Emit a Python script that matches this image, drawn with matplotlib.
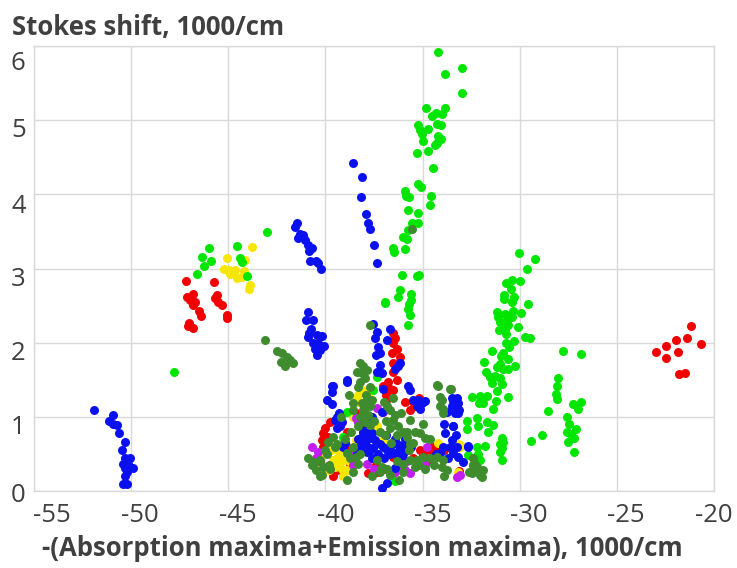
import matplotlib
matplotlib.use("Agg")
import matplotlib.pyplot as plt
import matplotlib.transforms as mtrans

# ---------------------------------------------------------------
# data (x = -(abs max + em max), y = Stokes shift)
# ---------------------------------------------------------------
red_x = [-47.18, -45.74, -46.8, -47.14, -46.97, -46.71, -46.8, -46.49, -46.42, -47.0, -47.06, -46.83,
         -45.6, -45.68, -45.51, -45.34, -45.05, -45.08,
         -21.19, -21.38, -21.94, -20.69, -22.46, -22.99, -21.84, -22.46, -21.82, -21.5,
         -36.51, -36.42, -36.51, -36.33, -36.59, -36.16, -36.51, -36.54, -36.33, -36.76, -37.02, -36.68,
         -36.88, -36.76, -35.48, -35.39, -35.65, -40.02, -40.11, -40.19, -40.14, -39.86, -38.91, -38.82,
         -38.74, -37.8, -36.51, -35.13, -34.45, -34.19, -39.42, -38.45, -34.71, -37.36, -36.16, -39.76,
         -36.51, -34.28, -33.1,
         -40.3, -39.9, -38.5, -37.9, -36.9, -35.5, -35.0, -34.6, -33.9, -35.9, -35.2, -39.6, -37.4]
red_y = [2.83, 2.82, 2.66, 2.61, 2.57, 2.55, 2.51, 2.43, 2.36, 2.26, 2.22, 2.20,
         2.64, 2.60, 2.55, 2.51, 2.37, 2.33,
         2.23, 2.06, 2.04, 1.98, 1.95, 1.87, 1.87, 1.80, 1.58, 1.59,
         2.13, 2.06, 1.99, 1.92, 1.86, 1.81, 1.72, 1.61, 1.50, 1.47, 1.41, 1.38,
         1.30, 1.25, 1.20, 1.14, 1.09, 0.85, 0.78, 0.69, 0.60, 0.73, 0.80, 0.58,
         0.37, 0.24, 0.46, 0.55, 0.60, 0.55, 0.28, 1.05, 0.42, 0.26, 0.33, 0.93,
         1.36, 0.55, 0.27,
         0.40, 0.30, 0.45, 0.60, 0.30, 0.45, 0.50, 0.55, 0.55, 1.20, 1.25, 0.20, 0.35]

yellow_x = [-43.78, -45.07, -44.16, -45.22, -44.95, -44.64, -44.91, -44.19, -44.54, -44.31, -43.88, -43.92,
            -38.31, -38.39, -37.97, -38.45, -38.45, -39.25, -39.34, -39.17, -39.08, -40.28, -39.6, -37.02,
            -33.16, -33.08, -37.36, -37.54, -38.05, -33.08, -33.2, -39.5, -39.3, -38.9,
            -39.8, -39.7, -39.4, -39.1, -38.8, -38.3, -37.8, -38.6, -36.8, -34.2]
yellow_y = [3.29, 3.14, 3.11, 3.0, 2.98, 2.98, 2.92, 2.96, 2.87, 2.88, 2.78, 2.73,
            1.29, 1.25, 1.32, 0.69, 0.60, 0.46, 0.37, 0.30, 0.42, 0.46, 0.42, 0.69,
            0.64, 0.60, 0.87, 0.89, 1.36, 0.62, 0.25, 0.33, 0.52, 0.28,
            0.28, 0.55, 0.45, 0.20, 0.40, 1.20, 1.30, 1.00, 0.60, 0.65]

magenta_x = [-40.37, -38.45, -38.31, -37.36, -38.57, -37.88, -36.16, -35.91, -34.79, -33.08, -33.25,
             -37.19, -35.65, -37.02, -36.08, -40.5,
             -40.7, -38.7, -37.5, -36.4, -35.8, -34.9, -38.0]
magenta_y = [0.53, 0.98, 0.93, 1.12, 0.35, 0.37, 0.35, 0.28, 0.60, 0.22, 0.19,
             0.46, 0.24, 1.07, 0.31, 0.45,
             0.60, 0.50, 0.30, 0.25, 0.40, 0.35, 0.85]

lime_x = [-46.0, -46.35, -45.91, -46.23, -46.6, -44.54, -43.0, -44.4, -44.31, -44.02, -47.8,
          # upper branch
          -34.19, -32.99, -33.83, -32.96, -34.84, -33.83, -34.31, -34.5, -34.0, -35.24, -34.27, -34.05,
          -34.74, -35.13, -35.05, -34.19, -34.07, -34.96, -34.27, -34.34, -34.71, -35.29, -34.48, -35.25,
          -35.1, -35.89, -35.85, -35.69, -34.57, -34.62, -35.75, -35.24, -35.56, -35.22, -35.74, -35.99,
          -35.82, -36.51, -36.47, -35.89, -36.08, -35.19, -35.27, -36.16, -36.25, -35.61, -35.6, -36.94,
          -35.68, -35.74,
          # right branch
          -30.02, -29.23, -29.64, -30.38, -30.71, -29.97, -30.47, -30.81, -30.28, -30.81, -30.41, -29.59,
          -31.19, -30.76, -30.36, -29.92, -31.1, -30.64, -30.41, -31.0, -30.59, -30.11, -30.76, -31.05,
          -30.71, -29.73, -29.47, -30.71, -30.3, -30.54, -31.41, -30.88, -30.96, -30.59, -31.82, -30.26,
          -31.0, -31.19, -31.74, -30.85, -30.62, -31.27, -31.0, -31.53, -31.44, -30.93, -31.16, -32.46,
          -32.05, -31.7, -32.08, -31.87, -31.24, -30.62, -31.36,
          -27.79, -26.86, -28.02, -28.1, -28.15, -28.07, -28.56, -27.28, -26.82, -27.02, -27.55, -27.44,
          -27.1, -27.58, -27.37, -27.21, -27.5, -27.19, -29.42, -28.85,
          -32.73, -32.21, -32.13, -31.7, -31.39, -32.73, -31.64, -30.93, -30.85, -31.0, -30.93, -31.0,
          -30.93, -32.21, -31.79, -32.13, -32.05, -32.65,
          # main cluster
          -38.91, -39.08, -36.42, -37.36, -35.74, -35.65, -36.94, -37.54]
lime_y = [3.27, 3.16, 3.10, 3.03, 2.92, 3.31, 3.49, 3.14, 3.09, 2.90, 1.60,
          5.92, 5.70, 5.62, 5.36, 5.17, 5.17, 5.10, 5.05, 5.08, 4.93, 4.95, 4.94,
          4.88, 4.87, 4.82, 4.78, 4.75, 4.72, 4.69, 4.66, 4.59, 4.56, 4.36, 4.14,
          4.10, 4.04, 3.98, 3.97, 3.98, 3.85, 3.79, 3.75, 3.61, 3.62, 3.52, 3.43,
          3.40, 3.27, 3.22, 3.26, 2.91, 2.91, 2.90, 2.71, 2.62, 2.65, 2.58, 2.55,
          2.52, 2.46,
          3.21, 3.13, 3.0, 2.84, 2.81, 2.83, 2.73, 2.64, 2.62, 2.59, 2.55, 2.52,
          2.42, 2.39, 2.43, 2.40, 2.35, 2.31, 2.34, 2.28, 2.24, 2.21, 2.19, 2.17,
          2.12, 2.07, 2.06, 1.99, 2.02, 1.94, 1.89, 1.86, 1.82, 1.78, 1.74, 1.69,
          1.71, 1.67, 1.61, 1.65, 1.64, 1.55, 1.52, 1.54, 1.46, 1.44, 1.35, 1.27,
          1.28, 1.28, 1.19, 1.18, 1.22, 1.27, 1.10,
          1.89, 1.85, 1.53, 1.42, 1.31, 1.24, 1.08, 1.17, 1.20, 1.11, 1.0, 0.91,
          0.84, 0.80, 0.77, 0.72, 0.66, 0.52, 0.67, 0.75,
          0.94, 0.98, 0.87, 0.93, 0.89, 0.83, 0.79, 0.71, 0.66, 0.64, 0.58, 0.52,
          0.42, 0.60, 0.61, 0.50, 0.42, 0.49,
          1.07, 0.73, 0.13, 1.54, 2.24, 2.37, 2.54, 1.36]

dkgreen_x = [-43.11, -42.48, -42.25, -42.3, -42.08, -41.82, -41.69, -41.99, -35.56,
             -37.71, -38.22, -38.05, -37.88, -38.14, -37.97, -38.22, -37.88, -38.14, -37.71, -38.05, -37.8,
             -38.22, -37.97, -37.71, -38.57, -38.31, -38.57, -36.85, -36.68, -36.42, -36.51, -36.25, -35.99,
             -35.82, -35.65, -35.39, -35.13, -34.88, -36.68, -36.94, -36.33, -39.6, -39.86, -39.42, -38.91,
             -38.74, -38.45, -38.31, -40.28, -40.54, -40.11, -40.19, -39.76, -37.36, -37.1, -36.85, -37.19,
             -36.68, -35.99, -35.65, -35.31, -35.39, -34.97, -34.28, -33.93, -34.02, -33.76, -34.28, -33.59,
             -34.02, -34.1, -33.93, -32.39, -32.21, -32.05, -32.48, -38.39, -37.62, -35.65, -34.1, -34.19,
             -33.93, -32.3, -32.21, -31.87, -31.95, -32.39, -33.55,
             -40.9, -40.7, -40.5, -40.3, -39.9, -39.5, -39.0, -38.7, -38.6, -38.2, -37.9, -37.7, -38.0,
             -37.5, -37.2, -36.9, -36.6, -36.3, -36.0, -35.7, -35.5, -35.2, -34.9, -34.6, -34.4, -33.9,
             -38.6, -38.9, -37.6, -36.2, -35.8, -37.0, -38.3, -38.8, -39.2, -39.8, -40.0, -35.0, -34.6,
             -36.5, -36.1, -32.6, -32.4]
dkgreen_y = [2.04, 1.89, 1.86, 1.74, 1.68, 1.77, 1.73, 1.81, 3.53,
             2.24, 1.72, 1.68, 1.63, 1.59, 1.52, 1.47, 1.23, 1.18, 1.14, 1.09, 1.02,
             1.0, 0.93, 0.89, 1.09, 0.87, 1.18, 1.14, 1.09, 1.02, 0.96, 0.87, 0.80,
             0.73, 0.96, 0.80, 0.78, 0.71, 0.85, 0.75, 0.75, 0.73, 0.66, 0.64, 0.51,
             0.44, 0.46, 0.37, 0.42, 0.39, 0.33, 0.22, 0.30, 0.42, 0.33, 0.30, 0.26,
             0.22, 0.37, 0.42, 0.42, 0.33, 0.46, 0.46, 0.42, 0.33, 0.28, 1.43, 1.38,
             1.23, 1.14, 1.05, 0.35, 0.28, 0.22, 0.24, 1.61, 1.23, 0.64, 1.27, 1.41,
             1.11, 0.37, 0.32, 0.28, 0.19, 0.35, 1.38,
             0.45, 0.35, 0.28, 0.20, 0.50, 0.60, 0.70, 0.80, 0.60, 0.50, 1.30, 1.40, 1.10,
             0.95, 0.80, 0.95, 0.65, 0.40, 0.25, 0.55, 0.65, 0.35, 0.30, 0.45, 0.35, 0.20,
             0.25, 0.15, 0.20, 0.15, 0.80, 1.20, 1.40, 1.30, 1.00, 0.35, 0.55, 0.90, 0.70,
             1.25, 1.05, 0.25, 0.45]

blue_x = [-51.91, -50.95, -51.12, -50.92, -50.74, -50.6, -50.32, -50.46, -50.32, -50.06, -50.4, -50.15,
          -49.92, -50.32, -50.23, -50.32, -50.4, -50.23,
          -41.48, -41.57, -41.31, -41.14, -41.4, -41.05, -40.88, -40.71, -40.83, -40.8, -40.49, -40.37, -40.23,
          -40.88, -41.0, -40.62, -40.76, -40.83, -40.88, -40.45, -40.19, -40.62, -40.37, -40.07, -40.54,
          -40.28, -40.45,
          -38.6, -38.14, -38.16, -37.93, -37.79, -37.71, -37.5, -37.33,
          -37.54, -36.68, -37.36, -37.45, -36.82, -37.28, -37.19, -37.4, -36.16, -36.25, -37.19, -37.36,
          -37.1, -36.42, -38.91, -39.6, -39.68, -39.94, -39.68, -37.02, -35.74, -35.65, -35.48, -35.22,
          -35.05, -35.31, -35.13, -37.1, -39.42, -39.51, -39.17, -39.25, -39.42, -38.05, -37.88, -37.62,
          -38.14, -37.71, -37.97, -37.45, -37.8, -38.22, -37.54, -37.88, -39.11, -37.19, -37.02, -36.85,
          -36.68, -36.33, -36.16, -35.99, -35.82, -36.42, -36.08, -37.62, -36.42, -36.85, -37.1,
          -33.85, -33.5, -33.59, -33.25, -33.42, -33.16, -32.9, -32.65, -33.42, -33.93, -34.1, -33.42,
          -33.16, -33.5, -33.11, -33.76, -33.33, -33.5, -33.25, -34.88, -39.68, -38.91,
          -33.42, -33.25, -33.16, -33.42, -32.65,
          -38.3, -38.0, -37.7, -37.3, -37.0, -36.7, -36.4, -36.0, -35.6, -34.3, -33.7, -38.4, -39.0,
          -39.3, -37.6, -36.9, -35.9, -33.9, -33.3]
blue_y = [1.09, 1.02, 0.94, 0.91, 0.89, 0.78, 0.66, 0.55, 0.44, 0.44, 0.37, 0.36,
          0.31, 0.31, 0.25, 0.20, 0.09, 0.09,
          3.61, 3.56, 3.47, 3.45, 3.41, 3.38, 3.32, 3.27, 3.24, 3.10, 3.10, 3.07, 2.99,
          2.42, 2.30, 2.31, 2.19, 2.13, 2.08, 2.10, 2.09, 1.99, 1.99, 1.95, 1.92,
          1.90, 1.83,
          4.42, 4.24, 3.96, 3.74, 3.62, 3.53, 3.32, 3.08,
          2.25, 2.18, 2.15, 2.06, 2.03, 1.94, 1.86, 1.83, 1.72, 1.68, 1.70, 1.61,
          1.59, 1.65, 1.49, 1.41, 1.34, 1.23, 1.17, 1.38, 1.42, 1.36, 1.23, 1.23,
          1.18, 1.14, 1.10, 1.06, 1.0, 0.96, 0.93, 0.87, 0.85, 0.80, 0.78, 0.78,
          0.73, 0.71, 0.66, 0.69, 0.60, 0.60, 0.58, 0.53, 0.59, 0.64, 0.60, 0.55,
          0.60, 0.63, 0.58, 0.62, 0.55, 0.51, 0.47, 0.44, 0.31, 0.11, 0.04,
          0.78, 0.69, 0.60, 0.60, 0.51, 0.46, 0.39, 0.61, 0.87, 0.60, 0.51, 1.23,
          1.18, 1.14, 1.09, 1.07, 1.05, 1.26, 1.25, 1.21, 1.41, 1.47,
          1.23, 1.14, 1.05, 0.87, 0.60,
          0.70, 0.90, 0.55, 0.50, 0.45, 0.50, 0.70, 0.50, 0.60, 0.50, 0.45, 0.50, 0.65,
          1.05, 1.00, 0.75, 0.70, 0.90, 0.75]

xticks = [-55, -50, -45, -40, -35, -30, -25, -20]
yticks = [0, 1, 2, 3, 4, 5, 6]

# ---------------------------------------------------------------
# plotting
# ---------------------------------------------------------------
plt.rcParams['font.family'] = ['Open Sans', 'DejaVu Sans']
txtcol = '#404040'
gridcol = '#d9d9d9'

fig = plt.figure(figsize=(7.37, 5.68), dpi=100)
ax = fig.add_axes([34/737, 1 - 491/568, (714-34)/737, (491-46)/568])

dot = 42
ax.scatter(red_x, red_y, s=dot, c='#f20000', lw=0, zorder=3)
ax.scatter(yellow_x, yellow_y, s=dot, c='#f7e600', lw=0, zorder=3)
ax.scatter(magenta_x, magenta_y, s=dot, c='#c21ef0', lw=0, zorder=3)
ax.scatter(lime_x, lime_y, s=dot, c='#00e600', lw=0, zorder=3)
ax.scatter(blue_x, blue_y, s=dot, c='#0a10f0', lw=0, zorder=3)
ax.scatter(dkgreen_x, dkgreen_y, s=dot, c='#3f8c2f', lw=0, zorder=3)

ax.set_xlim(-55, -20)
ax.set_ylim(0, 6)
ax.set_xticks(xticks)
ax.set_yticks(yticks)
ax.set_xticklabels([str(t) for t in xticks])
ax.set_yticklabels([str(t) for t in yticks])
ax.tick_params(length=0, labelsize=18.5, labelcolor=txtcol)
ax.tick_params(axis='x', pad=9)
ax.tick_params(axis='y', pad=6)
ax.grid(True, color=gridcol, lw=1)
ax.set_axisbelow(True)
for s in ax.spines.values():
    s.set_color(gridcol)
    s.set_linewidth(1)

# labels sit a bit off the gridlines in the original
xoff = [18, 9, 10, 10, 10, 9, 9, 0]
for lab, o in zip(ax.get_xticklabels(), xoff):
    lab.set_transform(lab.get_transform() + mtrans.ScaledTranslation(o/100, 0, fig.dpi_scale_trans))
yoff = [1, 8, 8, 8, 9, 7, 14]
for lab, o in zip(ax.get_yticklabels(), yoff):
    lab.set_transform(lab.get_transform() + mtrans.ScaledTranslation(0, -o/100, fig.dpi_scale_trans))

fig.text(12/737, 1 - 27/568, 'Stokes shift, 1000/cm', fontsize=18.5, fontweight='bold',
         color=txtcol, ha='left', va='center')
fig.text(362/737, 1 - 548/568, '-(Absorption maxima+Emission maxima), 1000/cm', fontsize=18.5,
         fontweight='bold', color=txtcol, ha='center', va='center')

fig.savefig('out.png', dpi=100)
